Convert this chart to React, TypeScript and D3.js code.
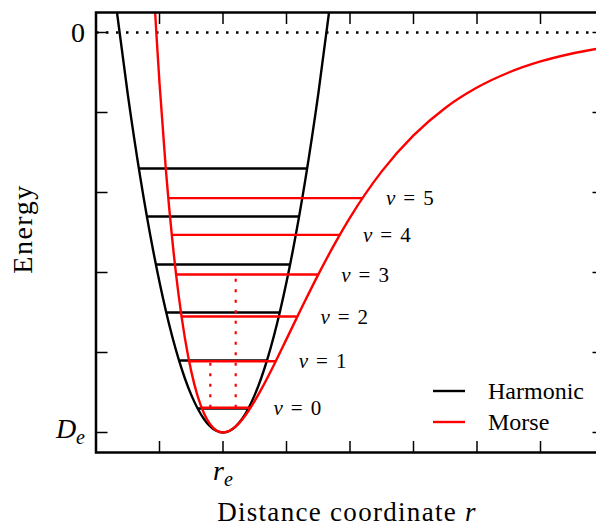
import React from 'react';
import * as d3 from 'd3';

// ---- data ----
const rTicks = [1, 2, 3, 4, 5, 6, 7];
const eTicks = [-5, -4, -3, -2, -1, 0];

const harmonicR = [0.3, 0.5, 0.7, 0.9, 1.1, 1.3, 1.5, 1.7, 1.9, 2.0, 2.1, 2.3, 2.5, 2.7, 2.9, 3.1, 3.3, 3.5, 3.7];
const harmonicE = [0.433, -0.77, -1.823, -2.725, -3.477, -4.079, -4.53, -4.831, -4.981, -5, -4.981, -4.831, -4.53, -4.079, -3.477, -2.725, -1.823, -0.77, 0.433];

const morseR = [0.9, 0.95, 1.0, 1.1, 1.2, 1.3, 1.4, 1.5, 1.6, 1.7, 1.8, 1.9, 2.0, 2.1, 2.2, 2.3, 2.4, 2.5, 2.6, 2.8, 3.0, 3.25, 3.5, 3.75, 4.0, 4.5, 5.0, 5.5, 6.0, 6.5, 7.0, 7.5, 8.0];
const morseE = [0.691, -0.003, -0.631, -1.71, -2.581, -3.276, -3.82, -4.236, -4.544, -4.76, -4.901, -4.977, -5, -4.98, -4.924, -4.839, -4.731, -4.605, -4.465, -4.159, -3.833, -3.422, -3.026, -2.655, -2.314, -1.736, -1.286, -0.943, -0.688, -0.5, -0.362, -0.262, -0.189];

const harmonicLevelE = [-4.7, -4.1, -3.5, -2.9, -2.3, -1.7];
const harmonicLeft = [1.6, 1.308, 1.107, 0.943, 0.802, 0.675];
const harmonicRight = [2.4, 2.692, 2.893, 3.057, 3.198, 3.325];

const morseLevelE = [-4.69, -4.11, -3.55, -3.025, -2.53, -2.07];
const morseLeft = [1.668, 1.47, 1.35, 1.264, 1.194, 1.141];
const morseRight = [2.433, 2.83, 3.172, 3.5, 3.842, 4.205];
const levelNames = ['0', '1', '2', '3', '4', '5'];

const dottedR = [1.8, 2.2];
const dottedFrom = [-4.69, -4.69];
const dottedTo = [-4.11, -3.025];

const legendNames = ['Harmonic', 'Morse'];
const legendColors = ['#000000', '#ff0000'];

const W = 596;
const H = 526;
const left = 96, right = 604, top = 12.5, bottom = 452.5;
const FONT = '"Liberation Serif", "DejaVu Serif", serif';
const LW = 2.4;

export default function App() {
  const x = d3.scaleLinear().domain([0, 8]).range([left, right]);
  const y = d3.scaleLinear().domain([-5.25, 0.25]).range([bottom, top]);

  const line = d3
    .line<[number, number]>()
    .x((d) => x(d[0]))
    .y((d) => y(d[1]))
    .curve(d3.curveMonotoneX);

  const harmonicPath = line(harmonicR.map((r, i) => [r, harmonicE[i]]) as [number, number][]) || '';
  const morsePath = line(morseR.map((r, i) => [r, morseE[i]]) as [number, number][]) || '';

  const tickLen = 11.5;

  return (
    <svg
      width={W}
      height={H}
      style={{ position: 'absolute', left: 0, top: 0, background: '#fff' }}
      fontFamily={FONT}
    >
      <rect x={0} y={0} width={W} height={H} fill="#fff" />
      <defs>
        <clipPath id="plotClip">
          <rect x={left} y={top} width={right - left} height={bottom - top} />
        </clipPath>
      </defs>

      <g clipPath="url(#plotClip)">
        {/* zero line */}
        <line
          x1={x(0)}
          x2={x(8)}
          y1={y(0)}
          y2={y(0)}
          stroke="#000"
          strokeWidth={2.5}
          strokeDasharray="2.5 7.5"
        />
        {/* harmonic */}
        <path d={harmonicPath} fill="none" stroke="#000" strokeWidth={LW} />
        {harmonicLevelE.map((e, i) => (
          <line
            key={'h' + i}
            x1={x(harmonicLeft[i])}
            x2={x(harmonicRight[i])}
            y1={y(e)}
            y2={y(e)}
            stroke="#000"
            strokeWidth={LW}
          />
        ))}
        {/* morse */}
        <path d={morsePath} fill="none" stroke="#ff0000" strokeWidth={LW} />
        {morseLevelE.map((e, i) => (
          <line
            key={'m' + i}
            x1={x(morseLeft[i])}
            x2={x(morseRight[i])}
            y1={y(e)}
            y2={y(e)}
            stroke="#ff0000"
            strokeWidth={LW}
          />
        ))}
        {dottedR.map((r, i) => (
          <line
            key={'d' + i}
            x1={x(r)}
            x2={x(r)}
            y1={y(dottedFrom[i])}
            y2={y(dottedTo[i])}
            stroke="#ff0000"
            strokeWidth={2.2}
            strokeDasharray="3 7.5"
          />
        ))}
      </g>

      {/* level labels */}
      {morseLevelE.map((e, i) => (
        <text
          key={'l' + i}
          x={x(morseRight[i]) + 23}
          y={y(e)}
          dy="0.34em"
          fontSize={21}
          fill="#000"
        >
          <tspan fontStyle="italic">ν</tspan>
          <tspan dx={8}>=</tspan>
          <tspan dx={8}>{levelNames[i]}</tspan>
        </text>
      ))}

      {/* ticks */}
      {rTicks.map((t) => (
        <g key={'xt' + t}>
          <line x1={x(t)} x2={x(t)} y1={bottom} y2={bottom - tickLen} stroke="#000" strokeWidth={1.5} />
          <line x1={x(t)} x2={x(t)} y1={top} y2={top + tickLen} stroke="#000" strokeWidth={1.5} />
        </g>
      ))}
      {eTicks.map((t) => (
        <g key={'yt' + t}>
          <line x1={left} x2={left + tickLen} y1={y(t)} y2={y(t)} stroke="#000" strokeWidth={1.5} />
          <line x1={right} x2={right - tickLen} y1={y(t)} y2={y(t)} stroke="#000" strokeWidth={1.5} />
        </g>
      ))}

      {/* spines */}
      <rect
        x={left}
        y={top}
        width={right - left}
        height={bottom - top}
        fill="none"
        stroke="#000"
        strokeWidth={2.5}
      />

      {/* tick labels */}
      <text x={85} y={y(0)} dy="0.34em" fontSize={28} textAnchor="end" fill="#000">0</text>
      <text x={85} y={y(-5)} dy="0.18em" fontSize={28} textAnchor="end" fill="#000">
        <tspan fontStyle="italic">D</tspan>
        <tspan fontStyle="italic" fontSize={20} dy={6}>e</tspan>
      </text>
      <text x={x(2)} y={480} fontSize={28} textAnchor="middle" fill="#000">
        <tspan fontStyle="italic">r</tspan>
        <tspan fontStyle="italic" fontSize={20} dy={6}>e</tspan>
      </text>

      {/* axis labels */}
      <text x={347} y={521} fontSize={27} textAnchor="middle" letterSpacing={1.3} fill="#000">
        Distance coordinate <tspan fontStyle="italic">r</tspan>
      </text>
      <text
        transform="translate(32,229) rotate(-90)"
        fontSize={28}
        textAnchor="middle"
        letterSpacing={1.5}
        fill="#000"
      >
        Energy
      </text>

      {/* legend */}
      {legendNames.map((n, i) => (
        <g key={n}>
          <line
            x1={433}
            x2={465}
            y1={391 + i * 31}
            y2={391 + i * 31}
            stroke={legendColors[i]}
            strokeWidth={LW}
          />
          <text x={488} y={391 + i * 31} dy="0.34em" fontSize={24} fill="#000">
            {n}
          </text>
        </g>
      ))}
    </svg>
  );
}
